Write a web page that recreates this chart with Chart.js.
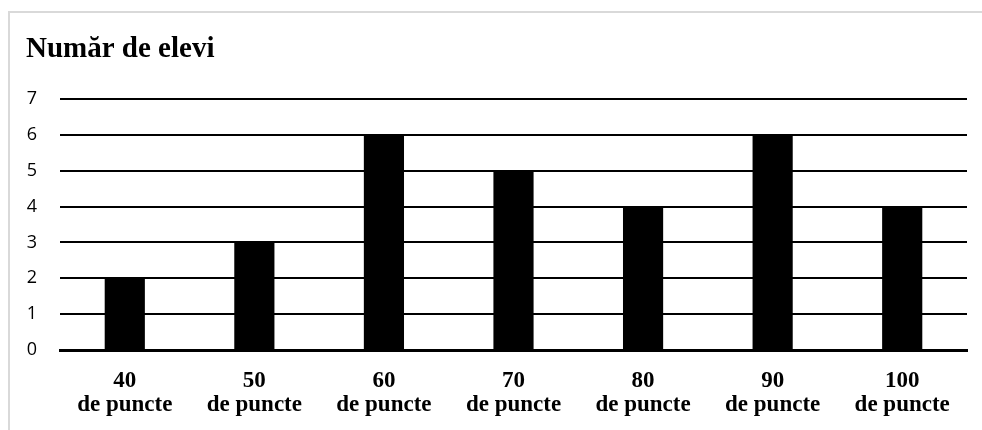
<!DOCTYPE html>
<html>
<head>
<meta charset="utf-8">
<script src="https://cdn.jsdelivr.net/npm/chart.js@4/dist/chart.umd.min.js"></script>
<style>
  html, body { margin: 0; padding: 0; background: #fff; }
  #wrap { position: relative; width: 982px; height: 430px; overflow: hidden; }
  #frame { position: absolute; left: 8px; top: 11px; width: 1000px; height: 440px;
           border: 2px solid #d9d9d9; box-sizing: border-box; }
  #c { position: absolute; left: 0; top: 0; }
</style>
</head>
<body>
<div id="wrap">
  <div id="frame"></div>
  <canvas id="c" width="982" height="430"></canvas>
</div>
<script>
// Punctaje obținute (categorii) și numărul de elevi pentru fiecare
const scores = ['40', '50', '60', '70', '80', '90', '100'];
const pointsWord = 'de puncte';
const students = [2, 3, 6, 5, 4, 6, 4];
const yTicks = [0, 1, 2, 3, 4, 5, 6, 7];

const labels = scores.map(s => [s, pointsWord]);

new Chart(document.getElementById('c'), {
  type: 'bar',
  data: {
    labels: labels,
    datasets: [{
      label: 'Număr de elevi',
      data: students,
      backgroundColor: '#000',
      borderWidth: 0,
      categoryPercentage: 1,
      barPercentage: 0.31
    }]
  },
  options: {
    responsive: false,
    animation: false,
    layout: { padding: { left: 26, right: 15, top: 32, bottom: 2 } },
    plugins: {
      legend: { display: false },
      tooltip: { enabled: false },
      title: {
        display: true,
        text: 'Număr de elevi',
        align: 'start',
        color: '#000',
        font: { family: 'Liberation Serif', size: 29, weight: 'bold', lineHeight: 1.2 },
        padding: { top: 0, bottom: 32 }
      }
    },
    scales: {
      x: {
        grid: { display: false },
        border: { display: true, color: '#000', width: 3 },
        ticks: {
          color: '#000',
          padding: 11,
          font: { family: 'Liberation Serif', size: 23, weight: 'bold', lineHeight: 1.04 },
          maxRotation: 0
        },
        afterFit: axis => { axis.paddingLeft = 0; axis.paddingRight = 0; }
      },
      y: {
        min: 0,
        max: 7,
        afterBuildTicks: axis => { axis.ticks = yTicks.map(v => ({ value: v })); },
        afterFit: axis => { axis.width = 34; },
        grid: { color: '#000', lineWidth: 2, drawTicks: false },
        border: { display: false },
        ticks: {
          color: '#000',
          padding: 23,
          font: { family: 'Open Sans', size: 18 }
        }
      }
    }
  }
});
</script>
</body>
</html>
